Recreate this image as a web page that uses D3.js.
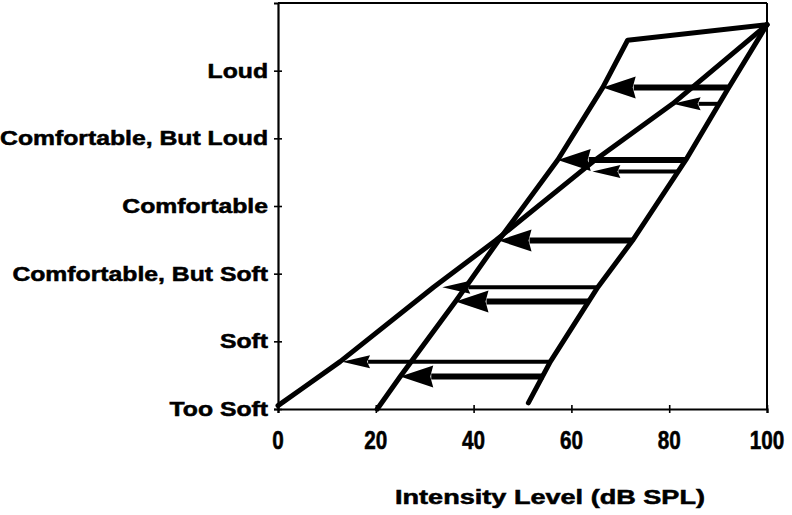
<!DOCTYPE html>
<html><head><meta charset="utf-8">
<script src="https://cdn.jsdelivr.net/npm/d3@7"></script>
<style>body{margin:0;background:#fff}svg{display:block}text{font-family:"Liberation Sans",Arial,sans-serif;font-weight:bold;fill:#000;stroke:#000;stroke-width:0.5px}</style>
</head><body>
<svg id="c" width="792" height="515"></svg>
<script>
const yCategories = ["Too Soft","Soft","Comfortable, But Soft","Comfortable","Comfortable, But Loud","Loud"];
const xTicks = [0,20,40,60,80,100];
const xTitle = "Intensity Level (dB SPL)";
// normal loudness growth
const normalX = [0, 5.1, 12.7, 31.8, 44.5, 64.5, 80.7, 100];
const normalY = [0.05, 0.31, 0.70, 1.80, 2.49, 3.66, 4.51, 5.68];
// aided / middle line
const aidedX = [20.3, 25.0, 36.3, 45.1, 57.2, 66.4, 71.5, 100];
const aidedY = [0.0, 0.48, 1.59, 2.49, 3.68, 4.75, 5.45, 5.68];
// impaired line
const impairedX = [51.2, 55.7, 65.4, 72.5, 83.4, 92.0, 100];
const impairedY = [0.09, 0.70, 1.80, 2.49, 3.68, 4.73, 5.68];
// thick arrows (to middle line)
const thickFrom = [92.0, 83.4, 72.5, 63.5, 54.3];
const thickTo   = [66.4, 57.2, 45.1, 36.3, 25.0];
const thickY    = [4.75, 3.68, 2.49, 1.59, 0.48];
// thin arrows (to normal line)
const thinFrom = [90.0, 81.8, 65.4, 55.7];
const thinTo   = [80.7, 64.3, 33.6, 13.1];
const thinY    = [4.51, 3.51, 1.80, 0.70];

const svg = d3.select("#c");
const x = d3.scaleLinear().domain([0,100]).range([278,767]);
const y = d3.scaleLinear().domain([0,6]).range([409,3]);

// box top & right
svg.append("line").attr("x1",x(0)).attr("x2",x(100)).attr("y1",y(6)).attr("y2",y(6)).attr("stroke","#000").attr("stroke-width",2);
svg.append("line").attr("x1",x(100)).attr("x2",x(100)).attr("y1",y(6)).attr("y2",y(0)).attr("stroke","#000").attr("stroke-width",2);

// axes
const xa = svg.append("g").attr("transform",`translate(0,${y(0)})`)
  .call(d3.axisBottom(x).tickValues(xTicks).tickSize(4).tickFormat(""));
xa.select(".domain").attr("stroke-width",2.2);
xa.selectAll(".tick line").attr("y1",-4).attr("y2",4).attr("stroke-width",1.6);
const ya = svg.append("g").attr("transform",`translate(${x(0)},0)`)
  .call(d3.axisLeft(y).tickValues(d3.range(yCategories.length)).tickSize(4).tickFormat(""));
ya.select(".domain").attr("stroke-width",2.2);
ya.selectAll(".tick line").attr("x1",-4).attr("x2",4).attr("stroke-width",1.6);

// x tick labels
svg.selectAll(".xl").data(xTicks).enter().append("text")
  .attr("transform",d=>`translate(${x(d)},449) scale(0.9,1.12)`)
  .attr("text-anchor","middle").attr("font-size",23).text(d=>d);
// y labels
svg.selectAll(".yl").data(yCategories).enter().append("text")
  .attr("transform",(d,i)=>`translate(268,${y(i)+7}) scale(1.27,1)`)
  .attr("text-anchor","end").attr("font-size",19.5).text(d=>d);
// x title
svg.append("text").attr("x",550).attr("y",504).attr("text-anchor","middle")
  .attr("font-size",19.5).attr("textLength",310).attr("lengthAdjust","spacingAndGlyphs").text(xTitle);

const line = d3.line().x(d=>x(d[0])).y(d=>y(d[1]));
function drawLine(xs, ys){
  svg.append("path").datum(xs.map((v,i)=>[v,ys[i]])).attr("d",line)
    .attr("fill","none").attr("stroke","#000").attr("stroke-width",5)
    .attr("stroke-linejoin","round").attr("stroke-linecap","round");
}
drawLine(normalX, normalY);
drawLine(aidedX, aidedY);
drawLine(impairedX, impairedY);

function drawArrows(from, to, ys, shaftW, headLen, headHalf){
  from.forEach((f,i)=>{
    const tx = x(to[i]), yy = y(ys[i]), fx = x(f);
    svg.append("line").attr("x1",fx).attr("x2",tx+headLen-2).attr("y1",yy).attr("y2",yy)
      .attr("stroke","#000").attr("stroke-width",shaftW);
    svg.append("path").attr("d",`M${tx},${yy} L${tx+headLen},${yy-headHalf} L${tx+headLen-3},${yy} L${tx+headLen},${yy+headHalf} Z`)
      .attr("fill","#000");
  });
}
drawArrows(thickFrom, thickTo, thickY, 6, 33, 11);
drawArrows(thinFrom, thinTo, thinY, 4, 28, 6.5);
</script>
</body></html>
